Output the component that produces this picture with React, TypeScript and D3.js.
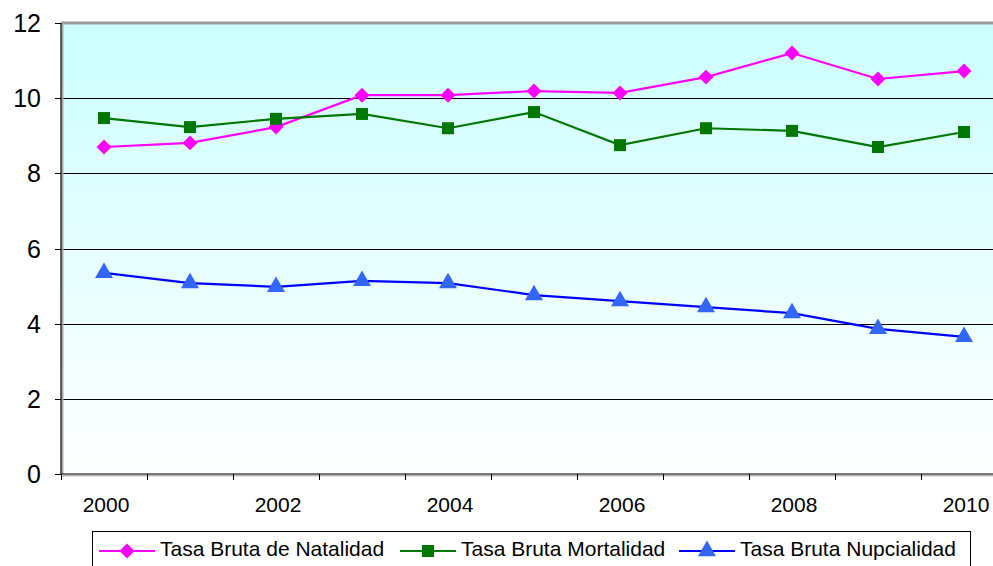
import React, { useEffect, useRef } from 'react';
import * as d3 from 'd3';

const years = ['2000', '2001', '2002', '2003', '2004', '2005', '2006', '2007', '2008', '2009', '2010'];
const natalidad = [8.7, 8.81, 9.23, 10.08, 10.08, 10.19, 10.14, 10.56, 11.2, 10.51, 10.72];
const mortalidad = [9.47, 9.23, 9.45, 9.58, 9.2, 9.63, 8.75, 9.2, 9.13, 8.7, 9.1];
const nupcialidad = [5.35, 5.08, 4.98, 5.14, 5.08, 4.76, 4.6, 4.44, 4.28, 3.86, 3.65];
const yTicks = [0, 2, 4, 6, 8, 10, 12];
const xLabels = ['2000', '2002', '2004', '2006', '2008', '2010'];
const seriesNames = ['Tasa Bruta de Natalidad', 'Tasa Bruta Mortalidad', 'Tasa Bruta Nupcialidad'];

function App() {
  const ref = useRef<SVGSVGElement>(null);

  useEffect(() => {
    const svg = d3.select(ref.current);
    svg.selectAll('*').remove();

    const width = 993;
    const height = 566;
    const margin = { top: 23, left: 61, bottom: 92, right: -14 };
    const iwidth = width - margin.left - margin.right;
    const iheight = height - margin.top - margin.bottom;
    const font = 'Liberation Sans, Arial, sans-serif';

    const defs = svg.append('defs');
    const grad = defs.append('linearGradient').attr('id', 'bg').attr('x1', 0).attr('y1', 0).attr('x2', 0).attr('y2', 1);
    grad.append('stop').attr('offset', '0%').attr('stop-color', '#ccffff');
    grad.append('stop').attr('offset', '100%').attr('stop-color', '#ffffff');

    const g = svg.append('g').attr('transform', `translate(${margin.left},${margin.top})`);

    const x = d3.scaleBand().domain(years).range([0, iwidth]);
    const y = d3.scaleLinear().domain([0, 12]).range([iheight, 0]);
    const cx = (d: string) => (x(d) as number) + x.bandwidth() / 2;

    g.append('rect').attr('width', iwidth).attr('height', iheight).attr('fill', 'url(#bg)');

    // gridlines
    g.selectAll('.grid').data(yTicks.filter(t => t > 0 && t < 12)).enter().append('line')
      .attr('x1', 0).attr('x2', iwidth)
      .attr('y1', d => Math.round(y(d)) + 0.5).attr('y2', d => Math.round(y(d)) + 0.5)
      .attr('stroke', '#000').attr('stroke-width', 1);

    // top border
    g.append('line').attr('x1', 0).attr('x2', iwidth).attr('y1', 0).attr('y2', 0)
      .attr('stroke', '#999').attr('stroke-width', 3);

    // y axis
    g.append('line').attr('x1', 1.5).attr('x2', 1.5).attr('y1', 0).attr('y2', iheight).attr('stroke', '#aaa').attr('stroke-width', 2);
    g.append('line').attr('x1', 0).attr('x2', 0).attr('y1', 0).attr('y2', iheight).attr('stroke', '#000').attr('stroke-width', 1.2);
    g.selectAll('.ytick').data(yTicks).enter().append('line')
      .attr('x1', -6).attr('x2', 0)
      .attr('y1', d => Math.round(y(d)) + 0.5).attr('y2', d => Math.round(y(d)) + 0.5)
      .attr('stroke', '#000');
    g.selectAll('.ylab').data(yTicks).enter().append('text')
      .attr('x', -20).attr('y', d => y(d)).attr('dy', '0.36em')
      .attr('text-anchor', 'end').attr('font-family', font).attr('font-size', 25)
      .text(d => d);

    // x axis
    g.append('line').attr('x1', 0).attr('x2', iwidth).attr('y1', iheight + 1.5).attr('y2', iheight + 1.5).attr('stroke', '#bbb').attr('stroke-width', 2);
    g.append('line').attr('x1', 0).attr('x2', iwidth).attr('y1', iheight).attr('y2', iheight).attr('stroke', '#000').attr('stroke-width', 1.2);
    g.selectAll('.xtick').data(years).enter().append('line')
      .attr('x1', d => Math.round(x(d) as number) + 0.5).attr('x2', d => Math.round(x(d) as number) + 0.5)
      .attr('y1', iheight).attr('y2', iheight + 6).attr('stroke', '#000');
    g.selectAll('.xlab').data(xLabels).enter().append('text')
      .attr('x', d => cx(d) + 2).attr('y', iheight + 38)
      .attr('text-anchor', 'middle').attr('font-family', font).attr('font-size', 21)
      .text(d => d);

    const series = [
      { name: seriesNames[0], values: natalidad, color: '#ff00ff', line: '#ff00ff', marker: 'diamond' },
      { name: seriesNames[1], values: mortalidad, color: '#007700', line: '#007700', marker: 'square' },
      { name: seriesNames[2], values: nupcialidad, color: '#3366ff', line: '#0000ff', marker: 'triangle' },
    ];

    const symbolFor = (m: string) => {
      if (m === 'diamond') return d3.symbol().type(d3.symbolSquare).size(112)();
      if (m === 'square') return d3.symbol().type(d3.symbolSquare).size(144)();
      return d3.symbol().type(d3.symbolTriangle).size(140)();
    };
    const rot = (m: string) => (m === 'diamond' ? ' rotate(45)' : '');

    const line = d3.line<number>().x((_, i) => cx(years[i])).y(d => y(d));

    series.forEach(s => {
      g.append('path').attr('d', line(s.values)).attr('fill', 'none')
        .attr('stroke', s.line).attr('stroke-width', 2.2);
      g.selectAll(null).data(s.values).enter().append('path')
        .attr('d', symbolFor(s.marker))
        .attr('transform', (d, i) => `translate(${cx(years[i])},${y(d)})${rot(s.marker)}`)
        .attr('fill', s.color);
    });

    // legend
    const legend = svg.append('g');
    legend.append('rect').attr('x', 92.5).attr('y', 531.5).attr('width', 878).attr('height', 42)
      .attr('fill', '#fff').attr('stroke', '#000');
    const itemX = [99, 400, 679];
    series.forEach((s, i) => {
      const lx = itemX[i];
      const ly = 551;
      legend.append('line').attr('x1', lx).attr('x2', lx + 56).attr('y1', ly).attr('y2', ly)
        .attr('stroke', s.line).attr('stroke-width', 2.2);
      legend.append('path').attr('d', symbolFor(s.marker))
        .attr('transform', `translate(${lx + 28},${ly})${rot(s.marker)}`).attr('fill', s.color);
      legend.append('text').attr('x', lx + 61).attr('y', 556)
        .attr('font-family', font).attr('font-size', 21).text(s.name);
    });
  }, []);

  return (
    <svg ref={ref} width={993} height={566}
      style={{ position: 'absolute', left: 0, top: 0, background: '#fff' }} />
  );
}

export default App;
